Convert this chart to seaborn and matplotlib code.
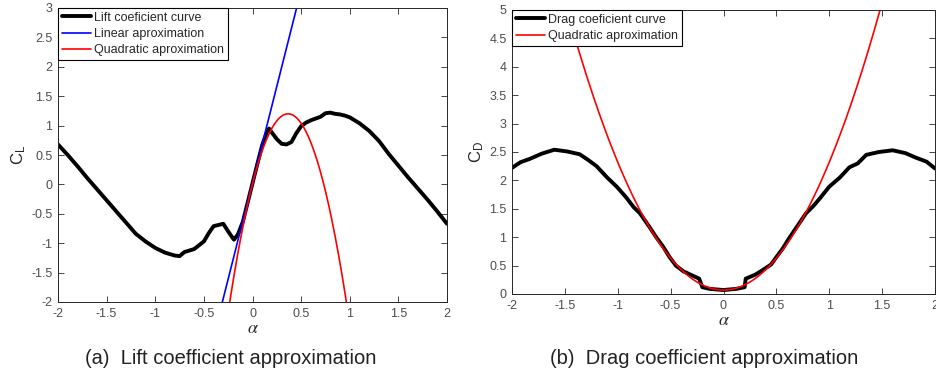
import numpy as np
import seaborn as sns
import matplotlib.pyplot as plt

# lift coefficient curve
alpha_lift = [-2.0, -1.9, -1.8, -1.7, -1.6, -1.5, -1.4, -1.3, -1.2, -1.1, -1.0, -0.9,
              -0.8, -0.75, -0.7, -0.6, -0.5, -0.45, -0.4, -0.35, -0.3, -0.25, -0.2, -0.19,
              -0.15, -0.1, -0.05, 0.0, 0.05, 0.1, 0.15, 0.17, 0.2, 0.25, 0.3, 0.35, 0.4,
              0.45, 0.5, 0.55, 0.6, 0.65, 0.7, 0.75, 0.8, 0.85, 0.9, 0.95, 1.0, 1.1, 1.2,
              1.3, 1.4, 1.5, 1.6, 1.7, 1.8, 1.9, 2.0]
cl_curve = [0.68, 0.50, 0.31, 0.11, -0.08, -0.27, -0.46, -0.65, -0.84, -0.97, -1.08, -1.16,
            -1.21, -1.22, -1.15, -1.10, -0.97, -0.83, -0.71, -0.69, -0.67, -0.80, -0.92, -0.94,
            -0.85, -0.64, -0.31, 0.02, 0.35, 0.67, 0.90, 0.95, 0.88, 0.77, 0.69, 0.68, 0.72,
            0.87, 0.99, 1.05, 1.09, 1.12, 1.15, 1.21, 1.22, 1.20, 1.19, 1.17, 1.14, 1.04, 0.91,
            0.74, 0.52, 0.32, 0.12, -0.07, -0.26, -0.46, -0.67]
lift_linear = [6.55, 0.03]          # slope, intercept
lift_quad = [-8.9, 6.51, 0.01]      # a2, a1, a0

# drag coefficient curve
alpha_drag = [-2.0, -1.92, -1.83, -1.72, -1.6, -1.48, -1.36, -1.28, -1.2, -1.1, -1.01,
              -0.92, -0.85, -0.79, -0.7, -0.64, -0.57, -0.51, -0.45, -0.38, -0.3,
              -0.23, -0.2, -0.13, 0.0, 0.12, 0.2, 0.21, 0.3, 0.37, 0.45, 0.5, 0.56, 0.62,
              0.7, 0.78, 0.85, 0.91, 1.0, 1.1, 1.19, 1.27, 1.35, 1.47, 1.6, 1.72, 1.82,
              1.92, 2.0]
cd_curve = [2.22, 2.32, 2.38, 2.47, 2.54, 2.51, 2.46, 2.36, 2.25, 2.05, 1.89,
            1.70, 1.53, 1.42, 1.18, 1.01, 0.83, 0.65, 0.50, 0.40, 0.33,
            0.27, 0.12, 0.09, 0.07, 0.09, 0.12, 0.27, 0.34, 0.42, 0.52, 0.65, 0.80, 0.98,
            1.20, 1.42, 1.55, 1.68, 1.89, 2.05, 2.23, 2.30, 2.45, 2.50, 2.53, 2.48, 2.40,
            2.33, 2.21]
drag_quad = [2.25, 0.0, 0.07]

sns.set_theme(style="ticks")
plt.rcParams["font.family"] = ["Liberation Sans", "DejaVu Sans"]
plt.rcParams["mathtext.fontset"] = "stix"
plt.rcParams["axes.unicode_minus"] = False

fig = plt.figure(figsize=(9.36, 3.76), dpi=100)
ax1 = fig.add_axes([58 / 936, 1 - 302 / 376, 389 / 936, 294 / 376])
ax2 = fig.add_axes([512 / 936, 1 - 294 / 376, 423 / 936, 284 / 376])

xs = np.linspace(-2, 2, 801)

sns.lineplot(x=alpha_lift, y=cl_curve, color="black", lw=2.8, ax=ax1,
             label="Lift coeficient curve")
sns.lineplot(x=xs, y=np.polyval(lift_linear, xs), color="blue", lw=1.2, ax=ax1,
             label="Linear aproximation")
sns.lineplot(x=xs, y=np.polyval(lift_quad, xs), color="red", lw=1.2, ax=ax1,
             label="Quadratic aproximation")

sns.lineplot(x=alpha_drag, y=cd_curve, color="black", lw=2.8, ax=ax2,
             label="Drag coeficient curve")
sns.lineplot(x=xs, y=np.polyval(drag_quad, xs), color="red", lw=1.2, ax=ax2,
             label="Quadratic aproximation")

for ax, ylim, ylab in [(ax1, (-2, 3), r"$\mathregular{C_L}$"),
                       (ax2, (0, 5), r"$\mathregular{C_D}$")]:
    ax.set_xlim(-2, 2)
    ax.set_ylim(*ylim)
    ax.set_xticks(np.arange(-2, 2.01, 0.5))
    ax.set_yticks(np.arange(ylim[0], ylim[1] + 0.01, 0.5))
    ax.set_xticklabels([f"{v:g}" for v in np.arange(-2, 2.01, 0.5)])
    ax.set_yticklabels([f"{v:g}" for v in np.arange(ylim[0], ylim[1] + 0.01, 0.5)])
    ax.tick_params(direction="in", length=4, width=0.6, labelsize=9, colors="#262626",
                   labelcolor="#4d4d4d", top=True, right=True, pad=4)
    for s in ax.spines.values():
        s.set_visible(True)
        s.set_linewidth(0.7)
        s.set_color("#262626")
    ax.set_xlabel(r"$\alpha$", fontsize=13, labelpad=0)
    ax.set_ylabel(ylab, fontsize=12, labelpad=2)
    leg = ax.legend(loc="upper left", borderaxespad=0, fontsize=9, fancybox=False,
                    edgecolor="black", framealpha=1, handlelength=2.3, handletextpad=0.3,
                    borderpad=0.3, labelspacing=0.35)
    leg.get_frame().set_linewidth(0.8)

fig.text(231 / 936, 1 - 359 / 376, "(a)  Lift coefficient approximation", fontsize=14.5,
         ha="center", va="center", color="#222222")
fig.text(704 / 936, 1 - 359 / 376, "(b)  Drag coefficient approximation", fontsize=14.5,
         ha="center", va="center", color="#222222")

fig.savefig("out.png", dpi=100)
